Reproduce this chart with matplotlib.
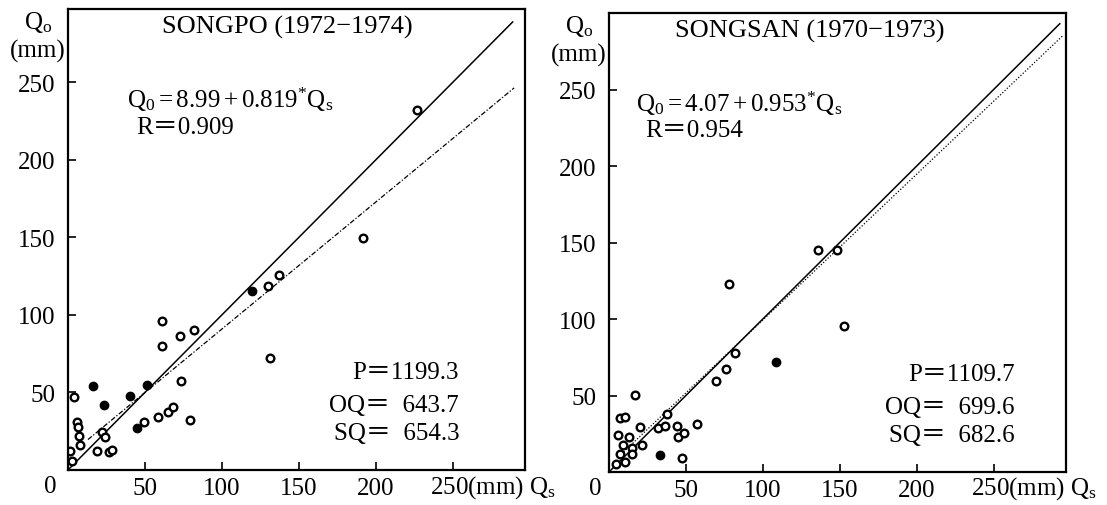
import numpy as np
import matplotlib
matplotlib.use("Agg")
import matplotlib.pyplot as plt

plt.rcParams.update({
    "font.family": ["Liberation Serif", "Noto Sans CJK JP"],
    "mathtext.fontset": "custom",
    "mathtext.rm": "Liberation Serif",
    "mathtext.it": "Liberation Serif:italic",
    "font.size": 18,
})

# SONGPO 1972-1974 (Qs, Qo) in mm
songpo_qs_open = [4.1, 5.6, 6.3, 7.1, 7.8, 2.8, 1.3, 21.9, 24.0, 18.6, 26.6, 28.8,
                  49.6, 58.2, 65.1, 68.4, 79.2, 73.4, 60.8, 61.2, 72.7, 82.0,
                  130.0, 137.2, 131.6, 191.8, 226.8]
songpo_qo_open = [46.9, 31.2, 27.5, 22.2, 16.1, 6.0, 12.5, 24.3, 21.1, 12.5, 11.4, 13.1,
                  31.2, 34.0, 37.2, 40.4, 32.5, 57.6, 79.8, 96.3, 86.2, 90.5,
                  118.5, 125.8, 72.0, 149.5, 232.5]
songpo_qs_fill = [16.4, 23.4, 40.3, 44.6, 51.1, 119.3]
songpo_qo_fill = [54.0, 41.9, 48.0, 26.9, 54.8, 115.7]

# SONGSAN 1970-1973
songsan_qs_open = [16.9, 7.3, 10.7, 20.1, 6.0, 12.9, 9.3, 15.1, 21.2, 7.2, 14.7, 4.9, 10.2,
                   47.2, 32.0, 36.4, 37.4, 43.9, 45.0, 48.9, 57.5, 69.7, 76.2, 82.0,
                   77.7, 152.8, 136.1, 148.4]
songsan_qo_open = [50.3, 35.3, 36.0, 29.2, 24.2, 22.7, 17.6, 15.5, 17.6, 11.8, 11.8, 5.2, 6.3,
                   9.0, 28.6, 29.9, 37.9, 29.9, 22.7, 25.5, 31.4, 59.7, 67.3, 77.8,
                   122.9, 95.6, 145.3, 145.3]
songsan_qs_fill = [33.1, 108.6]
songsan_qo_fill = [11.1, 71.7]

ticks = [50, 100, 150, 200, 250]
tick_labels = ["50", "100", "150", "200", ""]

panels = [
    dict(rect=[0.0614, 0.0692, 0.4128, 0.9111], ylim=297.4,
         title="SONGPO (1972\u22121974)", title_x=0.48,
         a=8.99, b=0.819, r=0.909, p="1199.3", oq="643.7", sq="654.3",
         qs_o=songpo_qs_open, qo_o=songpo_qo_open,
         qs_f=songpo_qs_fill, qo_f=songpo_qo_fill,
         fit_from=13, fit_to=290, one_to=289, eq_x=0.129, stat_x=0.856,
         fit_style=(0, (4, 1.5, 1, 1.5)), zero_x=-0.039),
    dict(rect=[0.5501, 0.0652, 0.4128, 0.9071], ylim=300,
         title="SONGSAN (1970\u22121973)", title_x=0.44,
         a=4.07, b=0.953, r=0.954, p="1109.7", oq="699.6", sq="682.6",
         qs_o=songsan_qs_open, qo_o=songsan_qo_open,
         qs_f=songsan_qs_fill, qo_f=songsan_qo_fill,
         fit_from=8, fit_to=295, one_to=293, eq_x=0.059, stat_x=0.888,
         fit_style=(0, (1, 1.5)), zero_x=-0.031),
]

fig = plt.figure(figsize=(11.07, 5.06), dpi=100)

for pn in panels:
    ax = fig.add_axes(pn["rect"])
    ax.set_xlim(0, 297)
    ax.set_ylim(0, pn["ylim"])

    # 1:1 line and regression line
    x1 = np.array([1, pn["one_to"]])
    ax.plot(x1, x1, color="black", lw=1.1)
    xf = np.array([pn["fit_from"], pn["fit_to"]])
    ax.plot(xf, pn["a"] + pn["b"] * xf, color="black", lw=0.9, linestyle=pn["fit_style"])

    ax.plot(pn["qs_o"], pn["qo_o"], "o", ms=5.5, mfc="white", mec="black", mew=1.7)
    ax.plot(pn["qs_f"], pn["qo_f"], "o", ms=6, mfc="black", mec="black")

    ax.set_xticks(ticks)
    ax.set_xticklabels(tick_labels)
    ax.set_yticks(ticks)
    ax.tick_params(direction="in", length=6, width=1.2, labelsize=18)
    ax.tick_params(axis="x", pad=5)
    ax.tick_params(axis="y", pad=9)
    for s in ax.spines.values():
        s.set_linewidth(1.6)

    tr = ax.transAxes
    ax.text(pn["title_x"], 0.963, pn["title"], transform=tr, ha="center", va="center",
            fontsize=19)
    eq = r"$\mathregular{Q_0=%.2f+%.3f^{*}Q_s}$" % (pn["a"], pn["b"])
    ax.text(pn["eq_x"], 0.805, eq, transform=tr, ha="left", va="center")
    ax.text(pn["eq_x"] + 0.02, 0.745, "R\uff1d%.3f" % pn["r"], transform=tr,
            ha="left", va="center")
    ax.text(pn["stat_x"], 0.213, "P\uff1d" + pn["p"], transform=tr, ha="right", va="center")
    ax.text(pn["stat_x"], 0.141, "OQ\uff1d  " + pn["oq"], transform=tr, ha="right", va="center")
    ax.text(pn["stat_x"], 0.080, "SQ\uff1d  " + pn["sq"], transform=tr, ha="right", va="center")

    # axis labels placed like the original figure
    ax.text(-0.035, 0.972, "Q$_\\mathregular{o}$", transform=tr, ha="right", va="center")
    ax.text(-0.006, 0.909, "(mm)", transform=tr, ha="right", va="center")
    ax.text(pn["zero_x"], -0.035, "0", transform=tr, ha="center", va="center")
    ax.text(0.792, -0.035, "250(mm) Q$_\\mathregular{s}$", transform=tr, ha="left", va="center")

plt.savefig("out.png", dpi=100)
